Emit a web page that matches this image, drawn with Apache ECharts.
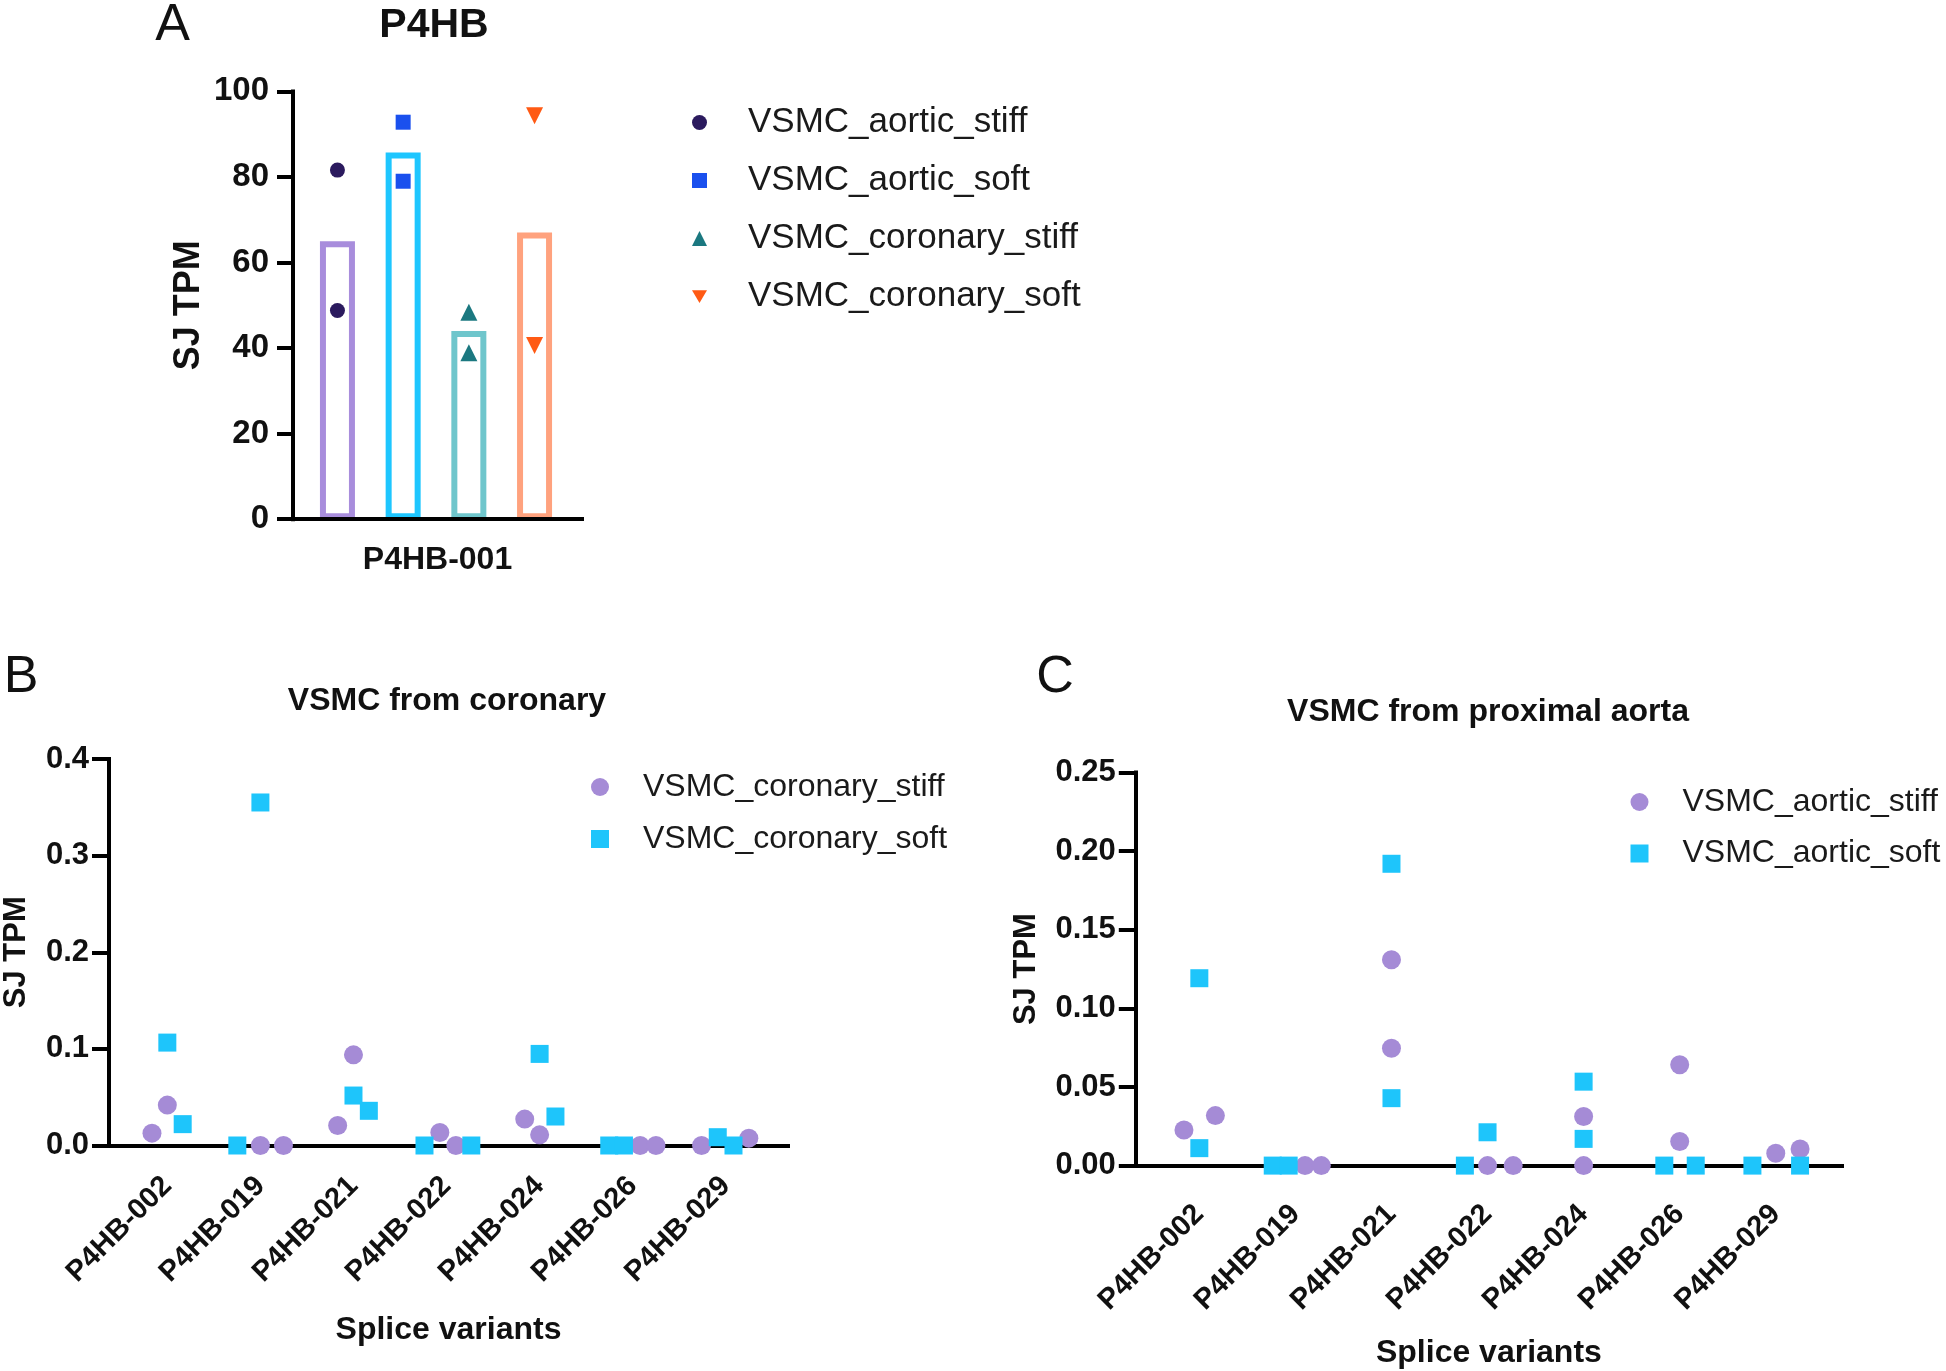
<!DOCTYPE html>
<html>
<head>
<meta charset="utf-8">
<script src="https://cdn.jsdelivr.net/npm/echarts@6/dist/echarts.min.js"></script>
<style>
  html, body { margin: 0; padding: 0; background: #fff; }
  .panel { position: absolute; left: 0; top: 0; width: 1946px; height: 1371px; }
</style>
</head>
<body>
<div id="chartA" class="panel"></div>
<div id="chartB" class="panel"></div>
<div id="chartC" class="panel"></div>
<script>
const FONT = '"Liberation Sans", Arial, Helvetica, sans-serif';
const INK = '#111';

// ---- panel A: P4HB-001, four groups (bar = mean, dots = replicates)
const groupsA = ['VSMC_aortic_stiff', 'VSMC_aortic_soft', 'VSMC_coronary_stiff', 'VSMC_coronary_soft'];
const barMeansA = [65, 85.7, 44, 67];
const aorticStiffA = [81.6, 48.8];
const aorticSoftA = [92.8, 79.0];
const coronaryStiffA = [48.4, 38.9];
const coronarySoftA = [94.3, 40.6];
const barColorsA = ['#a88ddc', '#1ec6ff', '#6fc6cc', '#ffa27e'];
const dotColorsA = ['#2b1a5e', '#1a50ee', '#1b7880', '#ff5a14'];
const yTicksA = [0, 100, 20];

// ---- panels B / C: splice variants
const variants = ['P4HB-002', 'P4HB-019', 'P4HB-021', 'P4HB-022', 'P4HB-024', 'P4HB-026', 'P4HB-029'];

// B: VSMC from coronary, two replicates per variant, jitter in category units
const corStiffB = [[0.0128, 0.0418], [0, 0], [0.0207, 0.0938], [0.0134, 0], [0.0273, 0.011], [0, 0], [0, 0.0076]];
const corStiffJitB = [[-0.165, 0], [0, 0.248], [-0.17, 0], [-0.072, 0.1], [-0.16, 0], [0.08, 0.25], [-0.26, 0.248]];
const corSoftB = [[0.1065, 0.0221], [0, 0.355], [0.0517, 0.0359], [0, 0], [0.0948, 0.030], [0, 0], [0.0086, 0]];
const corSoftJitB = [[0, 0.165], [-0.248, 0], [0, 0.165], [-0.237, 0.266], [0, 0.17], [-0.252, -0.094], [-0.086, 0.083]];

// C: VSMC from proximal aorta
const aorStiffC = [[0.0227, 0.0318], [0, 0], [0.131, 0.0747], [0, 0], [0.0312, 0], [0.0641, 0.0153], [0.0079, 0.0106]];
const aorStiffJitC = [[-0.16, 0.167], [0.1, 0.27], [0, 0], [0, 0.267], [0, 0], [0, 0], [0, 0.253]];
const aorSoftC = [[0.1192, 0.0111], [0, 0], [0.192, 0.0429], [0, 0.0212], [0.0534, 0.0170], [0, 0], [0, 0]];
const aorSoftJitC = [[0, 0], [-0.236, -0.07], [0, 0], [-0.236, 0], [0, 0], [-0.16, 0.167], [-0.243, 0.253]];

const PURPLE = '#a58bd6';
const SKY = '#1ec5fb';

function jittered(vals, jit) {
  const out = [];
  vals.forEach((pair, i) => pair.forEach((v, k) => out.push([i + jit[i][k], v])));
  return out;
}

function panelText(x, y, text, size, weight) {
  return { type: 'text', x, y, silent: true,
    style: { text, font: weight + ' ' + size + 'px ' + FONT, fill: INK, align: 'center', verticalAlign: 'middle' } };
}

const axisLine = { show: true, lineStyle: { color: '#000', width: 4, cap: 'square' } };

// ================= A =================
const chartA = echarts.init(document.getElementById('chartA'), null, { width: 1946, height: 1371 });
const ptsA = [aorticStiffA, aorticSoftA, coronaryStiffA, coronarySoftA];
const symA = ['circle', 'rect', 'triangle', 'triangle'];
const symSizeA = [15, 15, 17, 17];
chartA.setOption({
  animation: false,
  textStyle: { fontFamily: FONT },
  graphic: [panelText(172.5, 25.5, 'A', 52, 'normal'), panelText(434, 25.5, 'P4HB', 41, 'bold')],
  grid: [
    { left: 293, top: 91.4, width: 289, height: 427.8 },
    { left: 304.6, top: 91.4, width: 262.8, height: 427.8 }
  ],
  xAxis: [
    { gridIndex: 0, type: 'category', data: ['P4HB-001'], z: 10, axisLine,
      axisTick: { alignWithLabel: true, length: 19, lineStyle: { color: '#000', width: 4 } },
      axisLabel: { margin: 25, fontSize: 32, fontWeight: 'bold', color: INK, fontFamily: FONT } },
    { gridIndex: 1, type: 'category', data: groupsA, show: false }
  ],
  yAxis: [
    { gridIndex: 0, type: 'value', min: yTicksA[0], max: yTicksA[1], interval: yTicksA[2], z: 10, axisLine,
      axisTick: { show: true, length: 16, lineStyle: { color: '#000', width: 4 } },
      axisLabel: { margin: 24, fontSize: 33, fontWeight: 'bold', color: INK, fontFamily: FONT },
      splitLine: { show: false },
      name: 'SJ TPM', nameLocation: 'middle', nameGap: 86,
      nameTextStyle: { fontSize: 36, fontWeight: 'bold', color: INK, fontFamily: FONT } },
    { gridIndex: 1, type: 'value', min: yTicksA[0], max: yTicksA[1], show: false }
  ],
  legend: {
    orient: 'vertical', left: 687, top: 100, itemGap: 23, itemWidth: 15, itemHeight: 15,
    selectedMode: false,
    textStyle: { fontSize: 35, lineHeight: 35, color: '#1a1a1a', fontFamily: FONT, padding: [0, 0, 0, 36] },
    data: [
      { name: groupsA[0], icon: 'circle' },
      { name: groupsA[1], icon: 'rect' },
      { name: groupsA[2], icon: 'triangle' },
      { name: groupsA[3], icon: 'path://M0,0L20,0L10,17Z' }
    ]
  },
  series: [
    { type: 'bar', name: 'mean', xAxisIndex: 1, yAxisIndex: 1, barWidth: 35,
      itemStyle: { color: 'rgba(255,255,255,0)', borderWidth: 6 },
      data: barMeansA.map((v, i) => ({ value: v, itemStyle: { borderColor: barColorsA[i] } })) }
  ].concat(ptsA.map((vals, i) => ({
    type: 'scatter', name: groupsA[i], xAxisIndex: 1, yAxisIndex: 1, clip: false,
    symbol: symA[i], symbolSize: symSizeA[i], symbolRotate: i === 3 ? 180 : 0,
    itemStyle: { color: dotColorsA[i], opacity: 1 },
    data: vals.map(v => [groupsA[i], v])
  })))
});

// ================= B & C builder =================
function scatterPanel(el, cfg) {
  const chart = echarts.init(el, null, { width: 1946, height: 1371 });
  const tickStyle = { color: '#000', width: 4 };
  const bold = { fontWeight: 'bold', color: INK, fontFamily: FONT };
  chart.setOption({
    animation: false,
    textStyle: { fontFamily: FONT },
    graphic: [panelText(cfg.letterX, cfg.letterY, cfg.letter, 52, 'normal'),
              panelText(cfg.titleX, cfg.titleY, cfg.title, 32, 'bold')],
    grid: [cfg.frame, cfg.inner],
    xAxis: [
      { gridIndex: 0, type: 'value', min: 0, max: 1, axisLine, axisTick: { show: false },
        axisLabel: { show: false }, splitLine: { show: false },
        name: 'Splice variants', nameLocation: 'middle', nameGap: cfg.xNameGap,
        nameTextStyle: Object.assign({ fontSize: 32 }, bold) },
      { gridIndex: 1, type: 'category', data: variants, axisLine: { show: false },
        axisTick: { alignWithLabel: true, length: 18, lineStyle: tickStyle },
        axisLabel: Object.assign({ rotate: 45, margin: cfg.labelMargin, interval: 0, fontSize: 29 }, bold) },
      { gridIndex: 1, type: 'value', min: -0.5, max: 6.5, show: false }
    ],
    yAxis: [
      { gridIndex: 0, type: 'value', min: 0, max: cfg.yMax, interval: cfg.yStep, axisLine,
        axisTick: { show: true, length: 17, lineStyle: tickStyle },
        axisLabel: Object.assign({ margin: 20, fontSize: 31, formatter: v => v.toFixed(cfg.digits) }, bold),
        splitLine: { show: false },
        name: 'SJ TPM', nameLocation: 'middle', nameGap: cfg.yNameGap,
        nameTextStyle: Object.assign({ fontSize: 31 }, bold) },
      { gridIndex: 1, type: 'value', min: 0, max: cfg.yMax, show: false }
    ],
    legend: {
      orient: 'vertical', left: cfg.legendLeft, top: cfg.legendTop, itemGap: cfg.legendGap,
      itemWidth: 18, itemHeight: 18, selectedMode: false,
      textStyle: { fontSize: 32, lineHeight: 32, color: '#1a1a1a', fontFamily: FONT, padding: [0, 0, 0, 29] },
      data: [{ name: cfg.names[0], icon: 'circle' }, { name: cfg.names[1], icon: 'rect' }]
    },
    series: [
      { type: 'scatter', name: cfg.names[0], xAxisIndex: 2, yAxisIndex: 1, clip: false,
        symbol: 'circle', symbolSize: 19, itemStyle: { color: PURPLE, opacity: 1 },
        data: jittered(cfg.stiff, cfg.stiffJit) },
      { type: 'scatter', name: cfg.names[1], xAxisIndex: 2, yAxisIndex: 1, clip: false,
        symbol: 'rect', symbolSize: 18, itemStyle: { color: SKY, opacity: 1 },
        data: jittered(cfg.soft, cfg.softJit) }
    ]
  });
}

scatterPanel(document.getElementById('chartB'), {
  letter: 'B', letterX: 21, letterY: 678,
  title: 'VSMC from coronary', titleX: 447, titleY: 701,
  frame: { left: 104.6, top: 759, width: 683.4, height: 386.5 },
  inner: { left: 120.8, top: 759, width: 651.5, height: 386.5 },
  yMax: 0.4, yStep: 0.1, digits: 1, yNameGap: 77, xNameGap: 169, labelMargin: 36,
  legendLeft: 586, legendTop: 766, legendGap: 20,
  names: ['VSMC_coronary_stiff', 'VSMC_coronary_soft'],
  stiff: corStiffB, stiffJit: corStiffJitB, soft: corSoftB, softJit: corSoftJitB
});

scatterPanel(document.getElementById('chartC'), {
  letter: 'C', letterX: 1055, letterY: 678,
  title: 'VSMC from proximal aorta', titleX: 1488, titleY: 712,
  frame: { left: 1135.8, top: 772.6, width: 706.2, height: 393 },
  inner: { left: 1151.3, top: 772.6, width: 672.5, height: 393 },
  yMax: 0.25, yStep: 0.05, digits: 2, yNameGap: 94, xNameGap: 172, labelMargin: 44,
  legendLeft: 1625.5, legendTop: 781, legendGap: 19.5,
  names: ['VSMC_aortic_stiff', 'VSMC_aortic_soft'],
  stiff: aorStiffC, stiffJit: aorStiffJitC, soft: aorSoftC, softJit: aorSoftJitC
});
</script>
</body>
</html>
